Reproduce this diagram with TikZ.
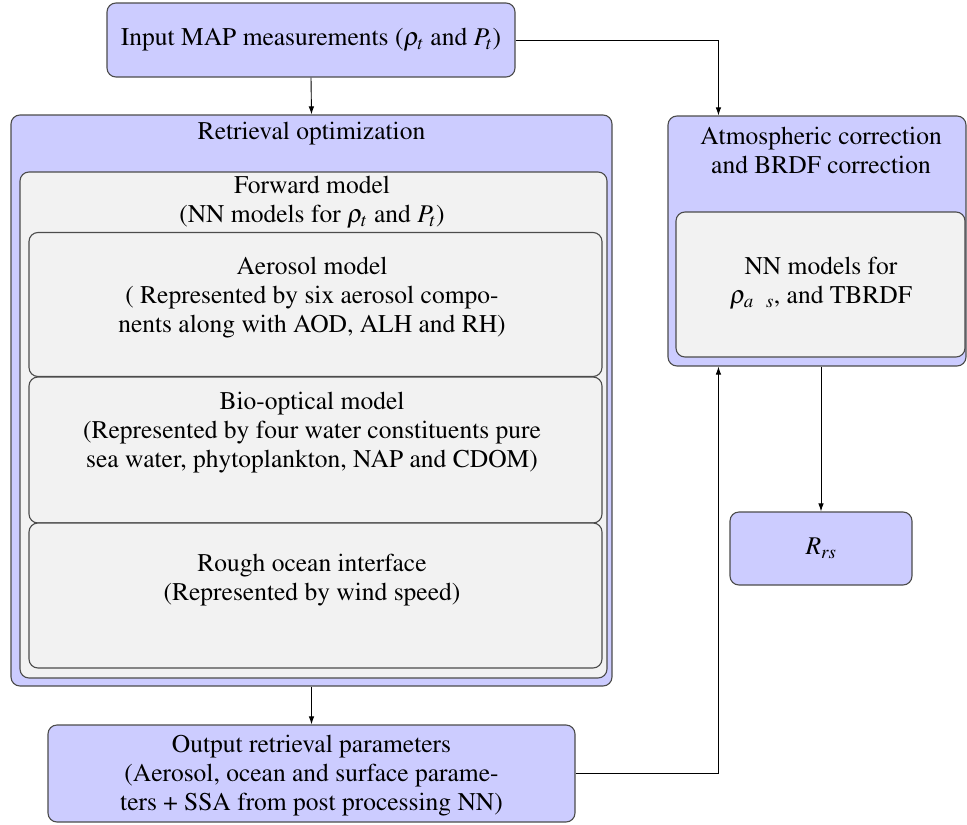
\documentclass[tikz,border=0pt]{standalone}
\usepackage[T1]{fontenc}
\usepackage{mathptmx}
\usetikzlibrary{arrows.meta,calc}
\begin{document}
\begin{tikzpicture}[x=1pt,y=-1pt,
  txt/.style={font=\fontfamily{ptm}\fontsize{25.5}{29}\selectfont, align=center, inner sep=0pt},
  lav/.style={draw=black!70, line width=1.1pt, fill=blue!20, rounded corners=9pt, inner sep=0pt},
  gry/.style={draw=black!70, line width=1.1pt, fill=gray!10, rounded corners=9pt, inner sep=0pt},
  conn/.style={line width=0.9pt, -{Latex[length=8pt,width=5.5pt]}}]
\useasboundingbox (0,0) rectangle (967,825);

% input
\node[lav, minimum width=408pt, minimum height=74pt] (input) at (311,40) {};
\node[txt] (inputtxt) at (input.center) {Input MAP measurements ($\rho_t$ and $P_t$)};

% retrieval optimization
\node[lav, minimum width=601pt, minimum height=571pt] (ret) at (311.5,400.5) {};
\node[txt] (rettitle) at (311.5,134) {Retrieval optimization};
\node[gry, minimum width=587pt, minimum height=506pt] (fwd) at (313.5,425) {};
\node[txt] (fwdtitle) at (312,202) {Forward model\\(NN models for $\rho_t$ and $P_t$)};
\node[gry, minimum width=573pt, minimum height=144pt] (aer) at (315.5,304.5) {};
\node[txt] (aertxt) at (312,298) {Aerosol model\\( Represented by six aerosol compo-\\nents along with AOD, ALH and RH)};
\node[gry, minimum width=573pt, minimum height=146pt] (bio) at (315.5,450) {};
\node[txt] (biotxt) at (312,433) {Bio-optical model\\(Represented by four water constituents pure\\sea water, phytoplankton, NAP and CDOM)};
\node[gry, minimum width=573pt, minimum height=145pt] (rough) at (315.5,595.5) {};
\node[txt] (roughtxt) at (312,580) {Rough ocean interface\\(Represented by wind speed)};

% output
\node[lav, minimum width=527pt, minimum height=97pt] (out) at (311.5,773.5) {};
\node[txt] (outtxt) at (311.5,776) {Output retrieval parameters\\(Aerosol, ocean and surface parame-\\ters + SSA from post processing NN)};

% atmospheric correction
\node[lav, minimum width=298pt, minimum height=250pt] (atm) at (817,241) {};
\node[txt] (atmtitle) at (821,150) {Atmospheric correction\\and BRDF correction};
\node[gry, minimum width=289pt, minimum height=145pt] (atmin) at (820.5,284.5) {};
\node[txt] (atmintxt) at (821,283) {NN models for\\$\rho_{a\ \ s}$, and TBRDF};

% Rrs
\node[lav, minimum width=182pt, minimum height=73pt] (rrs) at (821,548.5) {};
\node[txt] (rrstxt) at (rrs.center) {$R_{rs}$};

% connectors
\coordinate (atmtop) at ($(atm.north west)+(51,0)$);
\coordinate (atmbot) at ($(atm.south west)+(51,0)$);
\draw[conn] (input.south) -- (ret.north);
\draw[conn] (input.east) -| (atmtop);
\draw[conn] (ret.south) -- (out.north);
\draw[conn] (out.east) -| (atmbot);
\draw[conn] (rrs.north |- atm.south) -- (rrs.north);
\end{tikzpicture}
\end{document}
